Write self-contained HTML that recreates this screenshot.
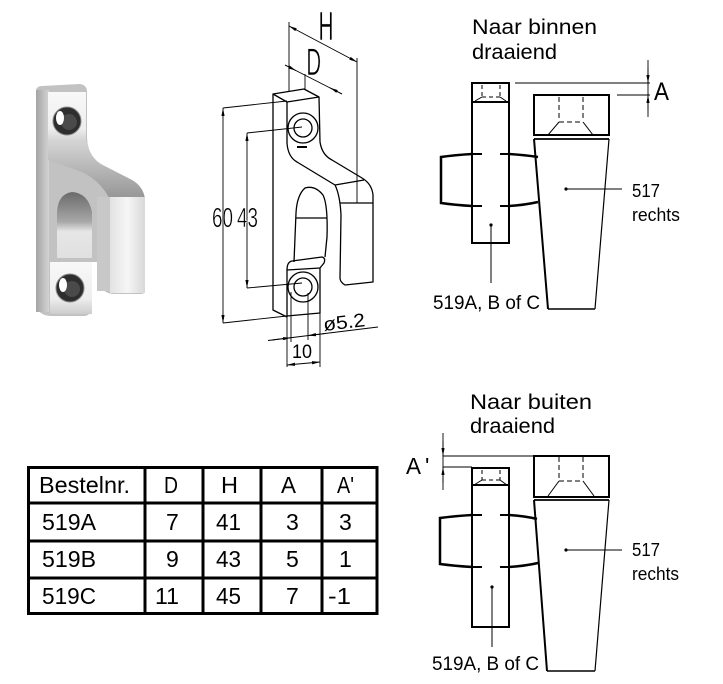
<!DOCTYPE html>
<html><head><meta charset="utf-8"><style>
html,body{margin:0;padding:0;background:#fff;}
svg{display:block;}
text{font-family:"Liberation Sans",sans-serif;fill:#000;}
.thin{stroke:#fff;stroke-width:0.5px;}
</style></head><body>
<svg width="723" height="684" viewBox="0 0 723 684" xmlns="http://www.w3.org/2000/svg">
<defs>
<marker id="ar" viewBox="0 0 10 4" refX="10" refY="2" markerWidth="8" markerHeight="3.2" markerUnits="userSpaceOnUse" orient="auto-start-reverse">
<path d="M0,0 L10,2 L0,4 Z" fill="#000"/>
</marker>
<linearGradient id="side" x1="0" y1="0" x2="1" y2="0"><stop offset="0" stop-color="#a4a4a4"/><stop offset="1" stop-color="#d4d4d4"/></linearGradient>
<linearGradient id="face" x1="0" y1="0" x2="0" y2="1"><stop offset="0" stop-color="#f8f8f8"/><stop offset="0.7" stop-color="#eeeeee"/><stop offset="1" stop-color="#cccccc"/></linearGradient>
<linearGradient id="arm" x1="0" y1="0" x2="0" y2="1"><stop offset="0" stop-color="#d4d4d4"/><stop offset="1" stop-color="#949494"/></linearGradient>
<linearGradient id="blk" x1="0" y1="0" x2="1" y2="0"><stop offset="0" stop-color="#e2e2e2"/><stop offset="0.5" stop-color="#f6f6f6"/><stop offset="1" stop-color="#d8d8d8"/></linearGradient>
<linearGradient id="arch" x1="0" y1="0" x2="0" y2="1"><stop offset="0" stop-color="#6a6a6a"/><stop offset="0.45" stop-color="#a8a8a8"/><stop offset="0.6" stop-color="#e6e6e6"/><stop offset="1" stop-color="#e0e0e0"/></linearGradient>
</defs>
<rect width="723" height="684" fill="#fff"/>

<!-- PHOTO -->
<g>
<path d="M36,90 Q37,86 42,86 L80,84 Q87,85 87,92 L87,138 Q88,156 101,164 L132,180 Q144,187 145,200 L145,290 Q145,294 141,294 L114,294 Q106,294 100,287 L97,262 L92,262 L92,310 Q90,315 85,316 L52,316 Q42,316 38,310 L36,304 Z" fill="#c2c2c2"/>
<rect x="36" y="90" width="13" height="222" fill="url(#side)"/>
<rect x="48" y="92" width="38" height="52" fill="url(#face)"/>
<path d="M48,142 L87,142 Q90,158 102,165 L132,180 Q144,187 145,200 L110,200 Q102,182 82,172 L48,160 Z" fill="url(#arm)"/>
<rect x="97" y="197" width="14" height="94" fill="#c8c8c8"/>
<rect x="110" y="197" width="35" height="96" fill="url(#blk)"/>
<path d="M57,258 L57,212 Q58,194 72,192 Q88,193 92,212 L92,258 Z" fill="url(#arch)"/>
<rect x="50" y="262" width="42" height="52" fill="url(#face)"/>
<circle cx="67" cy="121" r="14" fill="#2e2e2e" stroke="#8a8a8a" stroke-width="1"/>
<circle cx="69" cy="122" r="8" fill="#4a4a4a"/>
<ellipse cx="60" cy="118" rx="4" ry="7" fill="#fff"/>
<circle cx="70" cy="288" r="14" fill="#2e2e2e" stroke="#8a8a8a" stroke-width="1"/>
<circle cx="72" cy="289" r="8" fill="#4a4a4a"/>
<ellipse cx="63" cy="285" rx="4" ry="7" fill="#fff"/>
</g>

<!-- TECH DRAWING -->
<g fill="none" stroke="#000" stroke-width="1.3" stroke-linejoin="round">
<path d="M273,94 L304,89 L319,97 L287,102 Z"/>
<path d="M273,94 L273,310 L287,317"/>
<path d="M287,102 L287,143 Q288,157 297,162 L335,185"/>
<path d="M319,97 L320,142 Q322,155 332,160 L362,178 Q372,184 373,195 L373,282 L345,285 Q340,282 340,278 L341,215 Q340,195 335,185"/>
<path d="M335,185 L364,180"/>
<path d="M340,203 L373,203"/>
<path d="M294,262 L296,213 Q297,195 305,188 Q315,185 323,195 Q328,205 327,237 L325,257"/>
<path d="M296,218 L327,218"/>
<path d="M287,317 L287,270 Q287,262 292,261 L322,257 Q326,258 324,263 L320,268 L320,313 L287,316"/>
<path d="M287,270 L320,268"/>
<circle cx="303" cy="128" r="15"/>
<circle cx="303" cy="128" r="9"/>
<circle cx="303" cy="287" r="15"/>
<circle cx="303" cy="287" r="9"/>
<path d="M297,147 L307,147" stroke-width="2"/>
</g>
<g fill="none" stroke="#000" stroke-width="0.9">
<line x1="223" y1="108" x2="223" y2="323" marker-start="url(#ar)" marker-end="url(#ar)"/>
<line x1="223" y1="108" x2="287" y2="101"/>
<line x1="223" y1="323" x2="287" y2="316"/>
<line x1="247" y1="133" x2="247" y2="288" marker-start="url(#ar)" marker-end="url(#ar)"/>
<line x1="247" y1="133" x2="302" y2="127"/>
<line x1="247" y1="288" x2="302" y2="283"/>
<line x1="289" y1="22" x2="289" y2="92"/>
<line x1="357" y1="58" x2="357" y2="203"/>
<line x1="289" y1="26" x2="357" y2="62" marker-start="url(#ar)" marker-end="url(#ar)"/>
<line x1="305" y1="74" x2="305" y2="89"/>
<line x1="285" y1="65" x2="342" y2="94"/>
<line x1="285" y1="65" x2="296" y2="70.6" marker-end="url(#ar)"/>
<line x1="342" y1="94" x2="330" y2="87.8" marker-end="url(#ar)"/>
<line x1="287" y1="317" x2="287" y2="367"/>
<line x1="320" y1="313" x2="320" y2="367"/>
<line x1="287" y1="365" x2="320" y2="362" marker-start="url(#ar)" marker-end="url(#ar)"/>
<line x1="291" y1="292" x2="291" y2="342"/>
<line x1="308" y1="293" x2="308" y2="340"/>
<line x1="268" y1="340.5" x2="378" y2="327"/>
<line x1="272" y1="340" x2="291" y2="337.7" marker-end="url(#ar)"/>
<line x1="326" y1="333.4" x2="308" y2="335.6" marker-end="url(#ar)"/>
</g>
<text class="thin" x="318.5" y="40" font-size="41" textLength="15" lengthAdjust="spacingAndGlyphs">H</text>
<text class="thin" x="306.4" y="75" font-size="38" textLength="14.7" lengthAdjust="spacingAndGlyphs">D</text>
<text class="thin" x="212" y="227" font-size="28" textLength="21" lengthAdjust="spacingAndGlyphs">60</text>
<text class="thin" x="237" y="227" font-size="28" textLength="21" lengthAdjust="spacingAndGlyphs">43</text>
<text x="292" y="358" font-size="19" textLength="20" lengthAdjust="spacingAndGlyphs">10</text>
<text x="324" y="331" font-size="19" textLength="42" lengthAdjust="spacingAndGlyphs" transform="rotate(-6.7 324 331)">ø5.2</text>

<!-- TOP RIGHT: Naar binnen -->
<text x="472" y="34" font-size="21" textLength="125" lengthAdjust="spacingAndGlyphs">Naar binnen</text>
<text x="472" y="59" font-size="21" textLength="85" lengthAdjust="spacingAndGlyphs">draaiend</text>
<g fill="none" stroke="#000">
<rect x="472" y="83" width="37" height="160" stroke-width="2"/>
<line x1="472" y1="102" x2="509" y2="102" stroke-width="2"/>
<g stroke-width="1" stroke-dasharray="4,3">
<line x1="482" y1="85" x2="482" y2="97"/><line x1="500" y1="85" x2="500" y2="97"/>
<line x1="482" y1="97" x2="500" y2="97"/>
</g>
<line x1="482" y1="97" x2="475" y2="101" stroke-width="1"/>
<line x1="500" y1="97" x2="506" y2="101" stroke-width="1"/>
<path d="M472,154 Q455,155 441,157 L441,203 Q455,205 472,206" stroke-width="2.5"/>
<path d="M509,154 Q525,155 538,157" stroke-width="2.5"/>
<path d="M509,206 Q525,205 538,202" stroke-width="2.5"/>
<line x1="472" y1="154" x2="482" y2="154" stroke-width="2"/><line x1="500" y1="154" x2="509" y2="154" stroke-width="2"/>
<line x1="472" y1="206" x2="482" y2="206" stroke-width="2"/><line x1="500" y1="206" x2="509" y2="206" stroke-width="2"/>
<line x1="491" y1="225" x2="491" y2="283" stroke-width="1"/>
<rect x="534" y="95" width="75" height="40" stroke-width="2"/>
<line x1="534" y1="139" x2="609" y2="139" stroke-width="1.8"/>
<line x1="534" y1="139" x2="548" y2="309" stroke-width="2"/>
<line x1="609" y1="139" x2="595" y2="309" stroke-width="1.2"/>
<line x1="548" y1="309" x2="595" y2="309" stroke-width="1.5"/>
<g stroke-width="1" stroke-dasharray="5,3">
<line x1="559" y1="97" x2="559" y2="121"/><line x1="583" y1="97" x2="583" y2="121"/>
<line x1="559" y1="122" x2="583" y2="122"/>
</g>
<line x1="559" y1="122" x2="548" y2="135" stroke-width="1"/>
<line x1="583" y1="122" x2="593" y2="135" stroke-width="1"/>
<line x1="566" y1="189" x2="622" y2="189" stroke-width="1"/>
<line x1="515" y1="83" x2="650" y2="83" stroke-width="1"/>
<line x1="617" y1="95" x2="650" y2="95" stroke-width="1"/>
<line x1="648" y1="60" x2="648" y2="117" stroke-width="0.9"/>
<line x1="648" y1="68" x2="648" y2="83" stroke-width="0.9" marker-end="url(#ar)"/>
<line x1="648" y1="110" x2="648" y2="95" stroke-width="0.9" marker-end="url(#ar)"/>
</g>
<circle cx="491" cy="225" r="1.6" fill="#000"/>
<circle cx="566" cy="189" r="1.6" fill="#000"/>
<text x="654" y="100" font-size="25" textLength="15" lengthAdjust="spacingAndGlyphs">A</text>
<text x="632" y="197" font-size="18" textLength="28" lengthAdjust="spacingAndGlyphs">517</text>
<text x="632" y="221" font-size="18" textLength="48" lengthAdjust="spacingAndGlyphs">rechts</text>
<text x="433" y="309" font-size="19" textLength="107" lengthAdjust="spacingAndGlyphs">519A, B of C</text>

<!-- BOTTOM RIGHT: Naar buiten -->
<text x="470" y="409" font-size="21" textLength="122" lengthAdjust="spacingAndGlyphs">Naar buiten</text>
<text x="470" y="433" font-size="21" textLength="85" lengthAdjust="spacingAndGlyphs">draaiend</text>
<g fill="none" stroke="#000">
<rect x="472" y="468" width="37" height="159" stroke-width="2"/>
<line x1="472" y1="485" x2="509" y2="485" stroke-width="2"/>
<g stroke-width="1" stroke-dasharray="4,3">
<line x1="482" y1="470" x2="482" y2="480"/><line x1="500" y1="470" x2="500" y2="480"/>
<line x1="482" y1="480" x2="500" y2="480"/>
</g>
<line x1="482" y1="480" x2="474" y2="485" stroke-width="1"/>
<line x1="500" y1="480" x2="507" y2="485" stroke-width="1"/>
<path d="M472,515 Q455,516 440,518 L440,564 Q455,566 472,567" stroke-width="2.5"/>
<path d="M509,515 Q525,516 537,519" stroke-width="2.5"/>
<path d="M509,567 Q525,566 538,563" stroke-width="2.5"/>
<line x1="472" y1="515" x2="482" y2="515" stroke-width="2"/><line x1="500" y1="515" x2="509" y2="515" stroke-width="2"/>
<line x1="472" y1="567" x2="482" y2="567" stroke-width="2"/><line x1="500" y1="567" x2="509" y2="567" stroke-width="2"/>
<line x1="492" y1="587" x2="492" y2="647" stroke-width="1"/>
<rect x="534" y="456" width="75" height="41" stroke-width="2"/>
<line x1="534" y1="500" x2="609" y2="500" stroke-width="1.8"/>
<line x1="534" y1="500" x2="547" y2="671" stroke-width="2"/>
<line x1="609" y1="500" x2="595" y2="671" stroke-width="1.2"/>
<line x1="547" y1="671" x2="595" y2="671" stroke-width="1.5"/>
<g stroke-width="1" stroke-dasharray="5,3">
<line x1="559" y1="457" x2="559" y2="480"/><line x1="583" y1="457" x2="583" y2="480"/>
<line x1="559" y1="481" x2="583" y2="481"/>
</g>
<line x1="559" y1="481" x2="548" y2="496" stroke-width="1"/>
<line x1="583" y1="481" x2="594" y2="496" stroke-width="1"/>
<line x1="566" y1="550" x2="622" y2="550" stroke-width="1"/>
<line x1="443" y1="456" x2="534" y2="456" stroke-width="1"/>
<line x1="443" y1="467" x2="472" y2="467" stroke-width="1"/>
<line x1="443" y1="433" x2="443" y2="490" stroke-width="0.9"/>
<line x1="443" y1="441" x2="443" y2="456" stroke-width="0.9" marker-end="url(#ar)"/>
<line x1="443" y1="483" x2="443" y2="467" stroke-width="0.9" marker-end="url(#ar)"/>
</g>
<circle cx="492" cy="587" r="1.6" fill="#000"/>
<circle cx="566" cy="550" r="1.6" fill="#000"/>
<text x="406" y="474" font-size="23" textLength="15" lengthAdjust="spacingAndGlyphs">A</text>
<text x="425" y="474" font-size="23">'</text>
<text x="632" y="556" font-size="18" textLength="28" lengthAdjust="spacingAndGlyphs">517</text>
<text x="632" y="580" font-size="18" textLength="47" lengthAdjust="spacingAndGlyphs">rechts</text>
<text x="432" y="670" font-size="19" textLength="107" lengthAdjust="spacingAndGlyphs">519A, B of C</text>

<!-- TABLE -->
<g fill="none" stroke="#000" stroke-width="3">
<rect x="28.5" y="467.5" width="348.5" height="146"/>
<line x1="145" y1="466" x2="145" y2="615"/>
<line x1="203" y1="466" x2="203" y2="615"/>
<line x1="261" y1="466" x2="261" y2="615"/>
<line x1="322" y1="466" x2="322" y2="615"/>
<line x1="27" y1="503" x2="378" y2="503"/>
<line x1="27" y1="541" x2="378" y2="541"/>
<line x1="27" y1="578" x2="378" y2="578"/>
</g>
<g font-size="23">
<text x="39" y="493" textLength="91" lengthAdjust="spacingAndGlyphs">Bestelnr.</text>
<text x="164" y="493" textLength="14" lengthAdjust="spacingAndGlyphs">D</text>
<text x="221" y="493" textLength="17" lengthAdjust="spacingAndGlyphs">H</text>
<text x="281" y="493" textLength="15" lengthAdjust="spacingAndGlyphs">A</text>
<text x="337" y="493" textLength="17" lengthAdjust="spacingAndGlyphs">A'</text>
<text x="42" y="530" textLength="54" lengthAdjust="spacingAndGlyphs">519A</text>
<text x="166" y="530">7</text>
<text x="216" y="530" textLength="25" lengthAdjust="spacingAndGlyphs">41</text>
<text x="286" y="530">3</text>
<text x="339" y="530">3</text>
<text x="42" y="567" textLength="54" lengthAdjust="spacingAndGlyphs">519B</text>
<text x="166" y="567">9</text>
<text x="216" y="567" textLength="25" lengthAdjust="spacingAndGlyphs">43</text>
<text x="286" y="567">5</text>
<text x="339" y="567">1</text>
<text x="42" y="604" textLength="54" lengthAdjust="spacingAndGlyphs">519C</text>
<text x="155" y="604" textLength="24" lengthAdjust="spacingAndGlyphs">11</text>
<text x="216" y="604" textLength="25" lengthAdjust="spacingAndGlyphs">45</text>
<text x="286" y="604">7</text>
<text x="328" y="604" textLength="23" lengthAdjust="spacingAndGlyphs">-1</text>
</g>
</svg>
</body></html>
